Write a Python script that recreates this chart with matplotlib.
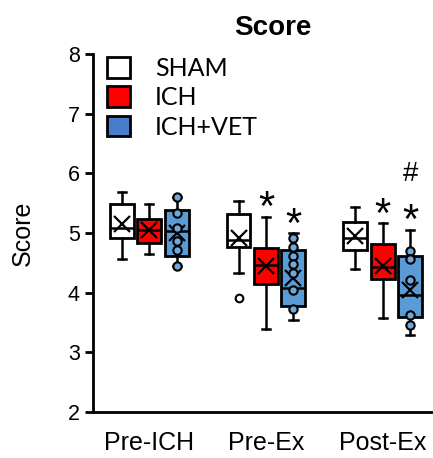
import matplotlib
matplotlib.use('Agg')
import matplotlib.pyplot as plt
from matplotlib.patches import Patch

plt.rcParams['font.family'] = ['Liberation Sans', 'DejaVu Sans']

timepoints = ['Pre-ICH', 'Pre-Ex', 'Post-Ex']
groups = ['SHAM', 'ICH', 'ICH+VET']
box_colors = ['white', '#ff0000', '#5b9bd5']
legend_colors = ['white', '#ff0000', '#4a7ccc']

# box stats: [whislo, q1, med, q3, whishi, mean]
sham_stats = [[4.57, 4.92, 5.09, 5.49, 5.69, 5.15],
              [4.32, 4.76, 4.88, 5.31, 5.54, 4.92],
              [4.39, 4.72, 4.92, 5.19, 5.43, 4.95]]
ich_stats = [[4.64, 4.83, 5.05, 5.24, 5.48, 5.05],
             [3.39, 4.15, 4.46, 4.75, 5.27, 4.45],
             [3.58, 4.22, 4.42, 4.81, 5.16, 4.45]]
vet_stats = [[4.45, 4.61, 5.03, 5.38, 5.60, 5.00],
             [3.54, 3.78, 4.08, 4.71, 4.99, 4.24],
             [3.29, 3.59, 3.96, 4.62, 5.05, 4.04]]
sham_outliers = [[], [3.91], []]

# individual ICH+VET animals
vet_points = [[5.60, 5.34, 5.08, 4.86, 4.72, 4.45],
              [4.92, 4.77, 4.61, 4.47, 4.32, 4.04, 3.72],
              [4.69, 4.56, 4.21, 3.62, 3.46]]

# significance marks: (timepoint, group, symbol)
star_marks = [(1, 1, '*'), (1, 2, '*'), (2, 1, '*'), (2, 2, '*')]
hash_marks = [(2, 2, '#')]

fig = plt.figure(figsize=(4.33, 4.58), dpi=100)
ax = fig.add_axes([0.215, 0.101, 0.785, 0.781])

offset = 0.235
width = 0.205
all_stats = [sham_stats, ich_stats, vet_stats]
for g, stats in enumerate(all_stats):
    bxp_stats = []
    pos = []
    for t, s in enumerate(stats):
        fl = sham_outliers[t] if g == 0 else []
        bxp_stats.append(dict(whislo=s[0], q1=s[1], med=s[2], q3=s[3],
                              whishi=s[4], mean=s[5], fliers=fl))
        pos.append(t + (g - 1) * offset)
    ax.bxp(bxp_stats, positions=pos, widths=width, capwidths=0.07,
           patch_artist=True, showmeans=True,
           boxprops=dict(facecolor=box_colors[g], edgecolor='black', linewidth=2),
           medianprops=dict(color='black', linewidth=1.8),
           whiskerprops=dict(color='black', linewidth=1.8),
           capprops=dict(color='black', linewidth=1.8),
           meanprops=dict(marker='x', markersize=11, markeredgecolor='black',
                          markeredgewidth=1.6),
           flierprops=dict(marker='o', markersize=5.5, markerfacecolor='white',
                           markeredgecolor='black', markeredgewidth=1.5))

for t, pts in enumerate(vet_points):
    ax.plot([t + offset] * len(pts), pts, 'o', color='#6fa8dc', markersize=6,
            markeredgecolor='black', markeredgewidth=1.5, zorder=5)

for t, g, sym in star_marks:
    top = all_stats[g][t][4]
    ax.annotate(sym, (t + (g - 1) * offset, top), xytext=(0, -9),
                textcoords='offset points', ha='center', va='bottom', fontsize=30)
for t, g, sym in hash_marks:
    top = all_stats[g][t][4]
    ax.annotate(sym, (t + (g - 1) * offset, top), xytext=(0, 31),
                textcoords='offset points', ha='center', va='bottom', fontsize=20)

ax.set_xlim(-0.48, 2.43)
ax.set_ylim(2, 8)
ax.set_yticks(range(2, 9))
ax.set_xticks(range(3))
ax.set_xticklabels(timepoints, fontsize=18)
ax.tick_params(axis='x', length=0, pad=14)
ax.tick_params(axis='y', labelsize=15.5, width=2, length=6)
ax.spines['top'].set_visible(False)
ax.spines['right'].set_visible(False)
ax.spines['left'].set_linewidth(2)
ax.spines['bottom'].set_linewidth(2)

ax.set_ylabel('Score', fontsize=18)
ax.yaxis.set_label_coords(-0.17, 0.5)
ax.set_title('Score', fontsize=20, fontweight='bold', x=0.528, pad=14)

handles = [Patch(facecolor=c, edgecolor='black', linewidth=2) for c in legend_colors]
ax.legend(handles, groups, loc='upper left', bbox_to_anchor=(-0.01, 1.04),
          frameon=False, prop={'family': 'Lato', 'size': 18},
          handlelength=0.9, handleheight=0.9, handletextpad=1.0,
          labelspacing=0.25, borderaxespad=0.3)

fig.savefig('out.png', dpi=100)
